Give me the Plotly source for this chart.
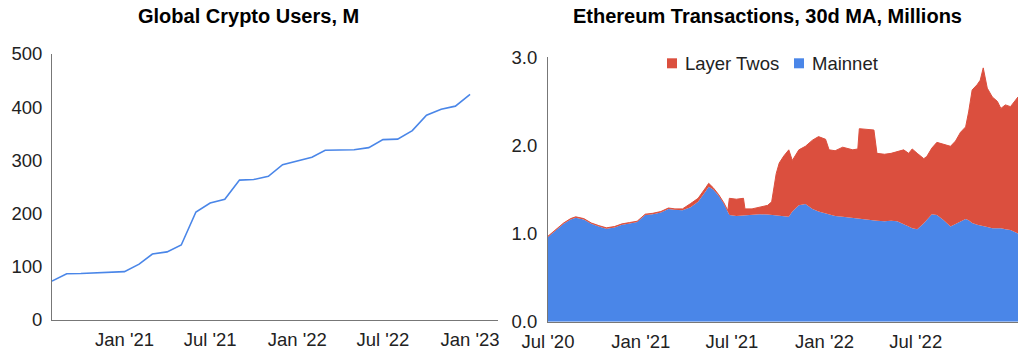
import plotly.graph_objects as go

# ---------------- Left chart data: Global Crypto Users (M), monthly ----------------
users_dates = [
    "2020-08-01", "2020-09-01", "2020-10-01", "2020-11-01", "2020-12-01",
    "2021-01-01", "2021-02-01", "2021-03-01", "2021-04-01", "2021-05-01",
    "2021-06-01", "2021-07-01", "2021-08-01", "2021-09-01", "2021-10-01",
    "2021-11-01", "2021-12-01", "2022-01-01", "2022-02-01", "2022-03-01",
    "2022-04-01", "2022-05-01", "2022-06-01", "2022-07-01", "2022-08-01",
    "2022-09-01", "2022-10-01", "2022-11-01", "2022-12-01", "2023-01-01",
]
users_values = [
    73, 87, 87.5, 88.5, 89.5,
    91, 105, 124, 128, 141,
    203, 220, 227, 263, 264,
    270, 292, 299, 306, 319,
    319.5, 320, 324, 339, 340,
    356, 385, 396, 402, 424,
]
users_tick_vals = ["2021-01-01", "2021-07-01", "2022-01-01", "2022-07-01", "2023-01-01"]
users_tick_text = ["Jan '21", "Jul '21", "Jan '22", "Jul '22", "Jan '23"]
users_y_ticks = [0, 100, 200, 300, 400, 500]

# ---------------- Right chart data: Ethereum transactions, 30d MA (M) ----------------
eth_dates = [
    "2020-07-01", "2020-07-15", "2020-08-01", "2020-08-15", "2020-08-25",
    "2020-09-10", "2020-09-25", "2020-10-10", "2020-10-25", "2020-11-10",
    "2020-11-25", "2020-12-10", "2020-12-25", "2021-01-10", "2021-01-25",
    "2021-02-10", "2021-02-25", "2021-03-10", "2021-03-25", "2021-04-10",
    "2021-04-25", "2021-05-10", "2021-05-16", "2021-05-25", "2021-06-05",
    "2021-06-15", "2021-06-23", "2021-06-26", "2021-07-10", "2021-07-24",
    "2021-07-27", "2021-08-10", "2021-08-25", "2021-09-10", "2021-09-18",
    "2021-09-22", "2021-09-27", "2021-10-03", "2021-10-12", "2021-10-22",
    "2021-10-29", "2021-11-11", "2021-11-24", "2021-12-08", "2021-12-20",
    "2022-01-03", "2022-01-10", "2022-01-22", "2022-02-06", "2022-02-26",
    "2022-03-08", "2022-03-11", "2022-04-09", "2022-04-15", "2022-04-30",
    "2022-05-13", "2022-05-25", "2022-06-07", "2022-06-17", "2022-06-24",
    "2022-07-04", "2022-07-17", "2022-07-23", "2022-08-02", "2022-08-12",
    "2022-08-25", "2022-09-08", "2022-09-18", "2022-09-28", "2022-10-08",
    "2022-10-14", "2022-10-21", "2022-10-31", "2022-11-06", "2022-11-12",
    "2022-11-20", "2022-11-30", "2022-12-10", "2022-12-17", "2022-12-26",
    "2023-01-05", "2023-01-20",
]
mainnet = [
    0.96, 1.03, 1.11, 1.16, 1.18,
    1.16, 1.11, 1.08, 1.055, 1.07,
    1.10, 1.115, 1.13, 1.21, 1.22,
    1.24, 1.28, 1.27, 1.265, 1.30,
    1.36, 1.48, 1.53, 1.50, 1.43,
    1.34, 1.24, 1.21, 1.20, 1.205,
    1.21, 1.215, 1.22, 1.215, 1.21,
    1.21, 1.20, 1.20, 1.19, 1.19,
    1.25, 1.32, 1.335, 1.28, 1.25,
    1.23, 1.22, 1.20, 1.19, 1.175,
    1.17, 1.17, 1.15, 1.146, 1.14,
    1.145, 1.14, 1.11, 1.08, 1.06,
    1.05, 1.117, 1.16, 1.22, 1.21,
    1.155, 1.08, 1.11, 1.14, 1.165,
    1.15, 1.12, 1.10, 1.095, 1.09,
    1.075, 1.06, 1.06, 1.06, 1.05,
    1.04, 1.00,
]
layer_twos = [
    0.01, 0.01, 0.01, 0.01, 0.01,
    0.01, 0.01, 0.01, 0.01, 0.01,
    0.01, 0.01, 0.01, 0.01, 0.01,
    0.01, 0.01, 0.01, 0.015, 0.04,
    0.04, 0.04, 0.04, 0.02, 0.01,
    0.01, 0.02, 0.19, 0.19, 0.195,
    0.07, 0.065, 0.08, 0.105, 0.15,
    0.29, 0.48, 0.60, 0.69, 0.76,
    0.58, 0.63, 0.655, 0.78, 0.85,
    0.84, 0.73, 0.74, 0.79, 0.775,
    0.79, 1.02, 1.025, 0.764, 0.76,
    0.765, 0.79, 0.84, 0.83, 0.90,
    0.86, 0.733, 0.715, 0.75, 0.825,
    0.855, 0.91, 0.94, 1.01, 1.045,
    1.23, 1.51, 1.59, 1.645, 1.79,
    1.575, 1.49, 1.44, 1.36, 1.41,
    1.40, 1.55,
]
eth_tick_vals = ["2020-07-01", "2021-01-01", "2021-07-01", "2022-01-01", "2022-07-01"]
eth_tick_text = ["Jul '20", "Jan '21", "Jul '21", "Jan '22", "Jul '22"]
eth_y_ticks = [0, 1, 2, 3]
eth_y_text = ["0.0", "1.0", "2.0", "3.0"]
legend_names = ["Layer Twos", "Mainnet"]

BLUE = "#4a86e8"
RED = "#db4f3e"
FONT = "Liberation Sans, Arial, sans-serif"
TICK_FONT = dict(family=FONT, size=18.5, color="#222222")

fig = go.Figure()

fig.add_trace(go.Scatter(
    x=users_dates, y=users_values, mode="lines",
    line=dict(color=BLUE, width=1.6), showlegend=False,
    xaxis="x", yaxis="y",
))

fig.add_trace(go.Scatter(
    x=eth_dates, y=mainnet, mode="lines", stackgroup="eth",
    line=dict(color=BLUE, width=0), fillcolor=BLUE, showlegend=False,
    xaxis="x2", yaxis="y2", name=legend_names[1],
))
fig.add_trace(go.Scatter(
    x=eth_dates, y=layer_twos, mode="lines", stackgroup="eth",
    line=dict(color=RED, width=1), fillcolor=RED, showlegend=False,
    xaxis="x2", yaxis="y2", name=legend_names[0],
))

axis_common = dict(
    showgrid=False, zeroline=False, ticks="", showline=True, automargin=False,
    linecolor="#777777", linewidth=1, tickfont=TICK_FONT,
)

# Legend drawn as square swatches + text, placed like the reference
legend_shapes = []
legend_annots = []
for name, color, sq_x0, txt_x in [(legend_names[0], RED, 667, 683), (legend_names[1], BLUE, 794, 809.5)]:
    legend_shapes.append(dict(
        type="rect", xref="paper", yref="paper",
        x0=sq_x0 / 1024, x1=(sq_x0 + 10) / 1024,
        y0=(352 - 68.3) / 352, y1=(352 - 58.3) / 352,
        fillcolor=color, line=dict(width=0),
    ))
    legend_annots.append(dict(
        text=name, x=txt_x / 1024, y=(352 - 63.3) / 352, xref="paper", yref="paper",
        xanchor="left", yanchor="middle", showarrow=False,
        font=dict(family=FONT, size=18.5, color="#222222"),
    ))

fig.update_layout(
    width=1024, height=352,
    margin=dict(l=0, r=0, t=0, b=0, autoexpand=False),
    paper_bgcolor="white", plot_bgcolor="white",
    font=dict(family=FONT, color="#222222"),
    showlegend=False,
    xaxis=dict(
        domain=[52 / 1024, 498 / 1024], anchor="y", type="date",
        range=["2020-08-01", "2023-03-01"],
        tickmode="array", tickvals=users_tick_vals, ticktext=users_tick_text,
        ticklabelstandoff=3,
        **axis_common,
    ),
    yaxis=dict(
        domain=[32 / 352, 298 / 352], anchor="x",
        range=[0, 500], tickmode="array", tickvals=users_y_ticks,
        ticklabelstandoff=5,
        **axis_common,
    ),
    xaxis2=dict(
        domain=[548 / 1024, 1018 / 1024], anchor="y2", type="date",
        range=["2020-07-01", "2023-01-20"],
        tickmode="array", tickvals=eth_tick_vals, ticktext=eth_tick_text,
        ticklabelstandoff=3,
        **axis_common,
    ),
    yaxis2=dict(
        domain=[30.3 / 352, 294.7 / 352], anchor="x2",
        range=[0, 3.0], tickmode="array", tickvals=eth_y_ticks, ticktext=eth_y_text,
        ticklabelstandoff=6,
        **axis_common,
    ),
    shapes=legend_shapes,
    annotations=[
        dict(text="<b>Global Crypto Users, M</b>", x=248 / 1024, y=(352 - 15.5) / 352,
             xref="paper", yref="paper", xanchor="center", yanchor="middle",
             showarrow=False, font=dict(family=FONT, size=20, color="#000000")),
        dict(text="<b>Ethereum Transactions, 30d MA, Millions</b>", x=767.5 / 1024,
             y=(352 - 15.5) / 352, xref="paper", yref="paper", xanchor="center",
             yanchor="middle", showarrow=False,
             font=dict(family=FONT, size=20, color="#000000")),
    ] + legend_annots,
)

fig.write_html("out.html")
